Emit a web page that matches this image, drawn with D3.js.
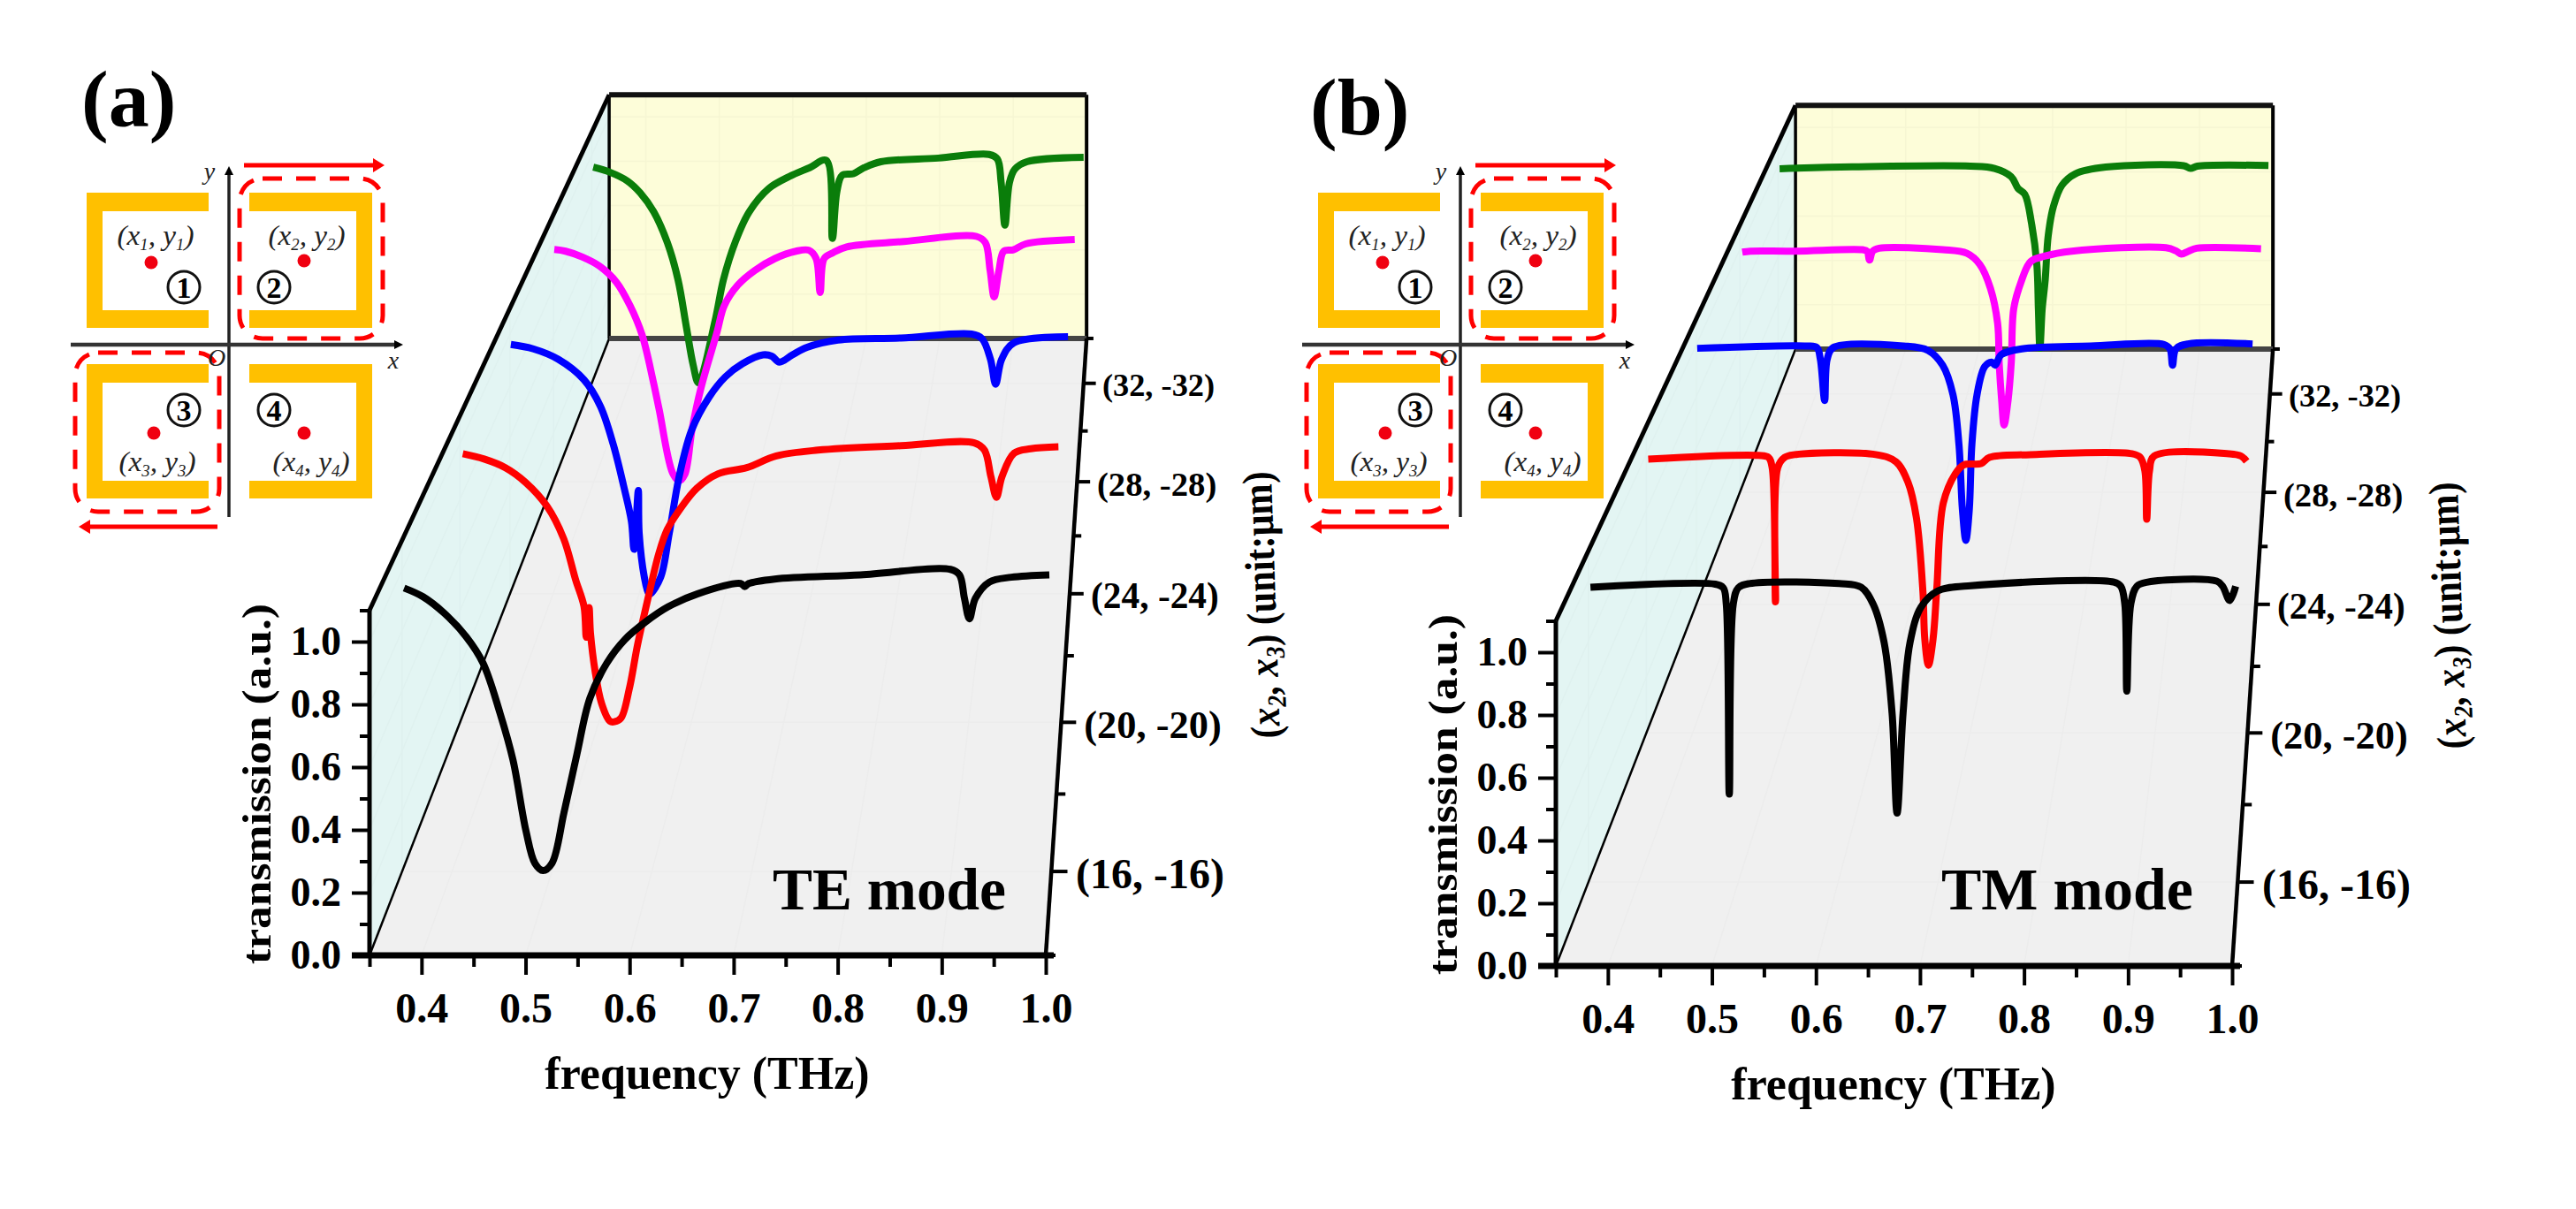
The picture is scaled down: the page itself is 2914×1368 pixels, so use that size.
<!DOCTYPE html>
<html><head><meta charset="utf-8">
<script src="https://cdn.jsdelivr.net/npm/d3@7"></script>
<style>html,body{margin:0;padding:0;background:#fff}svg{display:block}text{font-family:"Liberation Serif",serif}</style>
</head><body>
<svg id="c" width="2914" height="1368"></svg>
<script>
// ---------- axis values ----------
const freqTicks=[0.4,0.5,0.6,0.7,0.8,0.9,1.0];
const freqMinor=[0.35,0.45,0.55,0.65,0.75,0.85,0.95];
const transTicks=[0,0.2,0.4,0.6,0.8,1.0];
const transMinor=[0.1,0.3,0.5,0.7,0.9,1.1];
const depthTicks=[16,20,24,28,32];
const depthMinor=[14,18,22,26,30,34];
const depthLabels=["(16, -16)","(20, -20)","(24, -24)","(28, -28)","(32, -32)"];
const depthColors=["#000000","#ff0000","#0000ff","#ff00ff","#0a7d0a"];

// ---------- TE mode ----------
const teF16=[.352,.371,.392,.414,.431,.448,.461,.474,.483,.491,.5,.512,.525,.538,.555,.573,.594,.616,.646,.689,.693,.697,.723,.809,.899,.908,.913,.918,.924,.938,.96,.998];
const teT16=[.941,.912,.858,.78,.692,.526,.37,.135,.027,.003,.027,.194,.389,.575,.692,.77,.829,.878,.922,.956,.946,.956,.971,.985,1.003,.985,.907,.839,.907,.961,.977,.985];
const teF20=[.353,.376,.399,.421,.444,.462,.475,.484,.4865,.4895,.491,.496,.503,.512,.517,.524,.533,.542,.552,.565,.574,.588,.606,.629,.66,.692,.737,.827,.906,.917,.924,.93,.936,.949,.967,.997];
const teT20=[.963,.944,.913,.86,.775,.659,.511,.416,.305,.411,.321,.184,.068,.004,.002,.015,.12,.279,.427,.606,.691,.765,.839,.891,.913,.955,.976,.992,1.002,.976,.881,.807,.881,.965,.981,.988];
const teF24=[.351,.377,.406,.436,.455,.47,.482,.491,.494,.499,.5,.506,.511,.513,.525,.535,.547,.561,.581,.6,.62,.644,.654,.663,.678,.695,.731,.804,.886,.898,.908,.914,.921,.935,.998];
const teT24=[.96,.943,.903,.824,.722,.574,.415,.279,.171,.398,.234,.064,.001,0,.064,.234,.46,.631,.756,.835,.886,.92,.915,.892,.92,.949,.977,.985,1,.983,.903,.807,.903,.966,.99];
const teF28=[.351,.365,.386,.407,.428,.445,.46,.474,.481,.498,.506,.513,.522,.533,.553,.562,.579,.6,.625,.651,.667,.676,.681,.686,.697,.714,.785,.875,.886,.892,.897,.903,.909,.921,.936,.997];
const teT28=[.956,.949,.925,.888,.822,.725,.604,.41,.30,.035,.004,.03,.216,.385,.616,.725,.81,.87,.919,.949,.953,.919,.779,.919,.943,.967,.989,1.01,.985,.87,.761,.87,.949,.955,.979,.997];
const teF32=[.352,.374,.397,.414,.432,.45,.464,.475,.484,.491,.513,.524,.54,.558,.584,.611,.638,.66,.668,.674,.681,.696,.71,.732,.808,.875,.886,.891,.896,.902,.909,.925,1.0];
const teT32=[.947,.925,.887,.835,.751,.616,.454,.248,.081,.003,.274,.454,.622,.751,.854,.906,.945,.977,.635,.841,.912,.919,.945,.971,.987,1.003,.983,.88,.693,.88,.938,.971,.99];

// ---------- TM mode ----------
const tmF16=[.352,.477,.485,.488,.491,.495,.5,.511,.601,.623,.635,.646,.654,.659,.665,.672,.683,.70,.73,.876,.883,.887,.889,.893,.899,.91,.979,.985,.992,.998];
const tmT16=[.979,.989,.977,.923,.292,.923,.977,.991,.991,.979,.923,.796,.561,.229,.561,.796,.913,.967,.983,.996,.982,.923,.634,.923,.982,.996,.999,.982,.935,.982];
const tmF20=[.352,.471,.482,.486,.4896,.492,.4995,.5105,.598,.62,.633,.642,.649,.651,.655,.66,.664,.671,.684,.693,.712,.721,.765,.875,.884,.889,.891,.894,.899,.98,.993,.999];
const tmT20=[.982,.995,.988,.951,.47,.951,.988,.998,.998,.972,.898,.771,.507,.338,.243,.338,.517,.824,.929,.961,.966,.988,.998,1.001,.988,.94,.766,.94,.993,1.001,.993,.974];
const tmF24=[.351,.478,.49,.494,.499,.502,.509,.591,.619,.636,.648,.655,.659,.663,.667,.67,.676,.685,.693,.697,.704,.728,.808,.893,.9,.903,.907,.921,.996];
const tmT24=[.986,.995,.989,.944,.785,.944,.989,.995,.978,.921,.808,.615,.365,.246,.365,.615,.808,.916,.933,.921,.961,.984,.995,1.001,.984,.921,.984,1.003,1.003];
const tmF28=[.353,.363,.418,.502,.508,.511,.515,.523,.602,.632,.648,.661,.67,.672,.675,.678,.683,.687,.69,.699,.711,.728,.762,.879,.892,.898,.907,.917,.997];
const tmT28=[.989,.993,.993,.999,.993,.956,.993,1.005,.999,.984,.938,.841,.696,.527,.38,.277,.38,.538,.756,.865,.95,.972,.993,1.007,.993,.981,.993,1.005,1.003];
const tmF32=[.352,.448,.604,.636,.658,.667,.676,.685,.692,.694,.696,.699,.703,.707,.714,.725,.743,.783,.886,.895,.904,.998];
const tmT32=[.987,.995,.998,.988,.952,.901,.875,.746,.565,.372,.2,.372,.5,.694,.823,.914,.965,.994,1,.988,.998,1.001];

const teSeries=[[teF16,teT16],[teF20,teT20],[teF24,teT24],[teF28,teT28],[teF32,teT32]];
const tmSeries=[[tmF16,tmT16],[tmF20,tmT20],[tmF24,tmT24],[tmF28,tmT28],[tmF32,tmT32]];

const svg=d3.select("#c");
const serif='"Liberation Serif",serif';

function panel(series,dx,dy,modeLabel,modeX,modeLen){
  const g=svg.append("g").attr("transform",`translate(${dx},${dy})`);
  const xS=d3.scaleLinear().domain([.35,1]).range([418,1183]);
  const yS=d3.scaleLinear().domain([0,1.1]).range([1081,690.5]);
  const zS=d3.scaleLinear().domain([14,34]).range([1,1.4165]);
  const vx=1340,vy=-1293;
  const P=(f,t,z)=>{const s=1/zS(z);return [vx+(xS(f)-vx)*s,vy+(yS(t)-vy)*s];};

  const poly=(pts,fill)=>g.append("path").attr("d",d3.line()(pts)+"Z").attr("fill",fill);
  poly([P(.35,0,34),P(1,0,34),P(1,0,14),P(.35,0,14)],"#f0f0f0");
  poly([P(.35,0,34),P(1,0,34),P(1,1.1,34),P(.35,1.1,34)],"#fdfdd9");
  poly([P(.35,0,14),P(.35,1.1,14),P(.35,1.1,34),P(.35,0,34)],"#e3f5f3");

  const seg=(a,b,w,c)=>g.append("line").attr("x1",a[0]).attr("y1",a[1]).attr("x2",b[0]).attr("y2",b[1]).attr("stroke",c||"#000").attr("stroke-width",w);
  // faint grid
  freqTicks.forEach(f=>{seg(P(f,0,14),P(f,0,34),1.5,"#ececec");seg(P(f,0,34),P(f,1.1,34),1.5,"#f6f6d3");});
  depthTicks.forEach(z=>{seg(P(.35,0,z),P(1,0,z),1.5,"#ececec");seg(P(.35,0,z),P(.35,1.1,z),1.5,"#dff1ef");});
  transTicks.forEach(t=>{seg(P(.35,t,34),P(1,t,34),1.5,"#f6f6d3");seg(P(.35,t,14),P(.35,t,34),1.5,"#dff1ef");});

  // box edges
  seg(P(.35,0,14),P(.35,0,34),2.5);
  seg(P(.35,1.1,14),P(.35,1.1,34),5);
  seg(P(.35,0,34),P(.35,1.1,34),3.5);
  seg(P(1,0,34),P(1,1.1,34),4);
  seg(P(.35,1.1,34),P(1,1.1,34),6,"#111");
  seg(P(.35,0,34),P(1,0,34),6,"#444");

  // front axes through d3 axes
  const ax=(gen,tr)=>{const a=g.append("g").attr("transform",tr).call(gen);
    a.selectAll("line").attr("stroke","#000").attr("stroke-width",4);
    a.select(".domain").remove();return a;};
  const fmt=d3.format(".1f");
  const xMaj=ax(d3.axisBottom(xS).tickValues(freqTicks).tickSize(22).tickPadding(20).tickFormat(fmt),"translate(0,1081)");
  ax(d3.axisBottom(xS).tickValues(freqMinor).tickSize(13).tickFormat(""),"translate(0,1081)");
  xMaj.selectAll("text").attr("font-family",serif).attr("font-weight","bold").attr("font-size",48).attr("fill","#000");
  const yMaj=ax(d3.axisLeft(yS).tickValues(transTicks).tickSize(20).tickPadding(12).tickFormat(fmt),"translate(418,0)");
  ax(d3.axisLeft(yS).tickValues(transMinor).tickSize(11).tickFormat(""),"translate(418,0)");
  yMaj.selectAll("text").attr("font-family",serif).attr("font-weight","bold").attr("font-size",46).attr("fill","#000");
  seg(P(.35,0,14),P(.35,1.1,14),5);
  seg([398,1081],[1192,1081],7);

  // depth axis
  seg(P(1,0,14),P(1,0,34),4.5);
  depthMinor.forEach(z=>{const p=P(1,0,z),s=1/zS(z);seg(p,[p[0]+11*s,p[1]],4);});
  depthTicks.forEach((z,i)=>{const p=P(1,0,z),s=1/zS(z);
    seg(p,[p[0]+19*s,p[1]],4);
    g.append("text").attr("x",p[0]+29*s).attr("y",p[1]+20*s).attr("font-size",50*s).attr("font-weight","bold").text(depthLabels[i]);
  });

  // curves, back to front
  const line=d3.line().curve(d3.curveCatmullRom.alpha(0.5));
  for(let i=series.length-1;i>=0;i--){
    const [F,T]=series[i],z=depthTicks[i];
    g.append("path").attr("d",line(F.map((f,k)=>P(f,T[k],z)))).attr("fill","none")
     .attr("stroke",depthColors[i]).attr("stroke-width",8).attr("stroke-linejoin","round");
  }

  // titles
  g.append("text").attr("text-anchor","middle").attr("x",800).attr("y",1232).attr("font-size",52).attr("font-weight","bold").text("frequency (THz)");
  g.append("text").attr("transform","translate(306,887) rotate(-90)").attr("text-anchor","middle").attr("font-size",46).attr("font-weight","bold")
    .attr("textLength",408).attr("lengthAdjust","spacingAndGlyphs").text("transmission (a.u.)");
  const zt=g.append("text").attr("transform","translate(1443,684) rotate(-91.9)").attr("text-anchor","middle").attr("font-size",48).attr("font-weight","bold")
    .attr("textLength",302).attr("lengthAdjust","spacingAndGlyphs");
  zt.append("tspan").text("(");
  zt.append("tspan").attr("font-style","italic").text("x");
  zt.append("tspan").attr("font-size",30).attr("dy",8).attr("font-style","italic").text("2");
  zt.append("tspan").attr("dy",-8).text(", ");
  zt.append("tspan").attr("font-style","italic").text("x");
  zt.append("tspan").attr("font-size",30).attr("dy",8).attr("font-style","italic").text("3");
  zt.append("tspan").attr("dy",-8).text(") (unit:μm)");
  g.append("text").attr("x",modeX).attr("y",1029-(dy?12:0)).attr("font-size",68).attr("font-weight","bold")
    .attr("textLength",modeLen).attr("lengthAdjust","spacingAndGlyphs").text(modeLabel);
}

function inset(dx,letter,lx,ly){
  const g=svg.append("g").attr("transform",`translate(${dx},0)`);
  const orange="#ffc000";
  const openRight=(l,r,t,b)=>`M${l},${t}H${r}V${t+21}H${l+18}V${b-20}H${r}V${b}H${l}Z`;
  const openLeft=(l,r,t,b)=>`M${r},${t}H${l}V${t+21}H${r-18}V${b-20}H${l}V${b}H${r}Z`;
  [openRight(98,236,218,371),openLeft(282,421,218,371),openRight(98,236,412,564),openLeft(282,421,412,564)]
    .forEach(d=>g.append("path").attr("d",d).attr("fill",orange));
  // axes
  const ln=(x1,y1,x2,y2,w,c)=>g.append("line").attr("x1",x1).attr("y1",y1).attr("x2",x2).attr("y2",y2).attr("stroke",c).attr("stroke-width",w);
  ln(259,196,259,585,3.5,"#222");ln(80,390,448,390,4.5,"#333");
  g.append("path").attr("d","M259,188l-5,10h10Z").attr("fill","#000");
  g.append("path").attr("d","M456,390l-10,-5v10Z").attr("fill","#000");
  // dashed boxes
  [[271,202,162,181],[85,399,163,180]].forEach(r=>g.append("rect").attr("x",r[0]).attr("y",r[1]).attr("width",r[2]).attr("height",r[3]).attr("rx",26)
    .attr("fill","none").attr("stroke","#ff0000").attr("stroke-width",5).attr("stroke-dasharray","22 16"));
  // arrows
  ln(276,187,424,187,5,"#ff0000");g.append("path").attr("d","M435,187l-13,-8v16Z").attr("fill","#ff0000");
  ln(246,596,100,596,5,"#ff0000");g.append("path").attr("d","M89,596l13,-8v16Z").attr("fill","#ff0000");
  // dots
  [[171,297],[344,295],[174,490],[344,490]].forEach(p=>g.append("circle").attr("cx",p[0]).attr("cy",p[1]).attr("r",7.5).attr("fill","#f00010"));
  // circled numbers
  [[208,325,"1"],[310,325,"2"],[208,464,"3"],[310,464,"4"]].forEach(p=>{
    g.append("circle").attr("cx",p[0]).attr("cy",p[1]).attr("r",18).attr("fill","none").attr("stroke","#111").attr("stroke-width",3);
    g.append("text").attr("x",p[0]).attr("y",p[1]+12).attr("text-anchor","middle").attr("font-size",34).attr("font-weight","bold").text(p[2]);
  });
  // coordinate labels
  [[176,"1",277],[347,"2",277],[178,"3",533],[352,"4",533]].forEach(p=>{
    const t=g.append("text").attr("x",p[0]).attr("y",p[2]).attr("text-anchor","middle").attr("font-size",32).attr("font-style","italic").attr("fill","#222")
      .attr("textLength",87).attr("lengthAdjust","spacingAndGlyphs");
    t.append("tspan").text("(x");
    t.append("tspan").attr("font-size",18).attr("dy",6).text(p[1]);
    t.append("tspan").attr("dy",-6).text(", y");
    t.append("tspan").attr("font-size",18).attr("dy",6).text(p[1]);
    t.append("tspan").attr("dy",-6).text(")");
  });
  const small=(x,y,s)=>g.append("text").attr("x",x).attr("y",y).attr("text-anchor","middle").attr("font-size",28).attr("font-style","italic").attr("fill","#222").text(s);
  small(237,203,"y");small(445,417,"x");small(245,414,"O");
  svg.append("text").attr("x",lx).attr("y",ly).attr("font-size",92).attr("font-weight","bold").text(letter);
}

panel(teSeries,0,0,"TE mode",874,264);
panel(tmSeries,1342,12,"TM mode",854,285);
inset(0,"(a)",92,143);
inset(1393,"(b)",1482,152);
</script>
</body></html>
